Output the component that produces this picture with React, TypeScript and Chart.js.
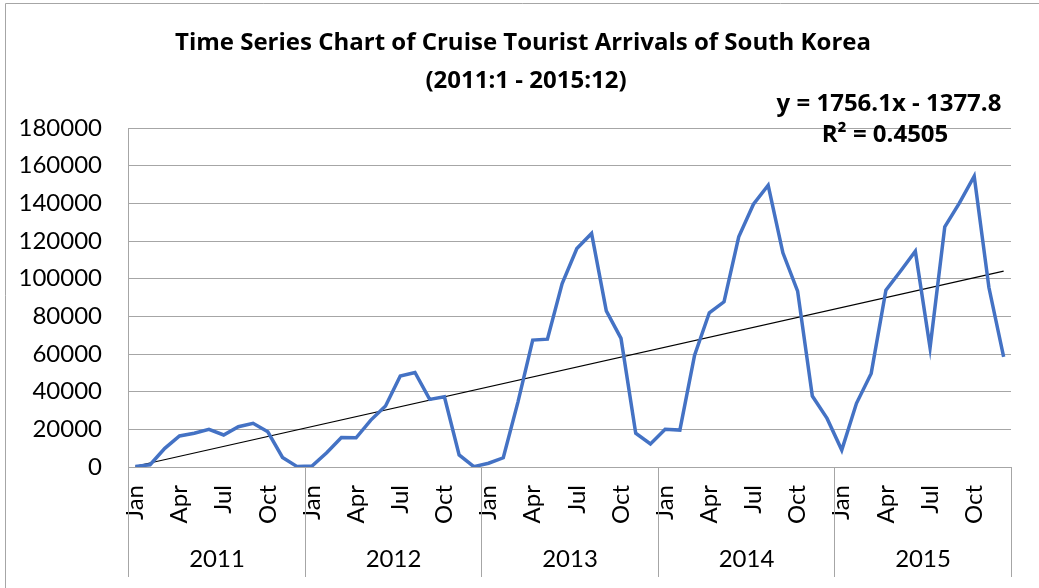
import React, { useEffect, useRef } from 'react';
import { Chart, registerables } from 'chart.js';

Chart.register(...registerables);

const titleLines = ['Time Series Chart of Cruise Tourist Arrivals of South Korea', '(2011:1 - 2015:12)'];
const trendEquation = 'y = 1756.1x - 1377.8';
const trendR2 = 'R² = 0.4505';
const trendSlope = 1756.1;
const trendIntercept = -1377.8;

const years = ['2011', '2012', '2013', '2014', '2015'];
const months = ['Jan', 'Feb', 'Mar', 'Apr', 'May', 'Jun', 'Jul', 'Aug', 'Sep', 'Oct', 'Nov', 'Dec'];
const shownMonths = ['Jan', 'Apr', 'Jul', 'Oct'];

const arrivals2011 = [300, 1200, 9900, 16500, 17900, 20000, 17000, 21400, 23200, 18700, 5100, 200];
const arrivals2012 = [500, 7600, 15700, 15500, 24900, 32400, 48300, 50200, 35900, 37300, 6400, 200];
const arrivals2013 = [2000, 4900, 34600, 67400, 67900, 97400, 116000, 124000, 82900, 68300, 17900, 12200];
const arrivals2014 = [20000, 19600, 59400, 81900, 87700, 122200, 139500, 149600, 113700, 93400, 37700, 25800];
const arrivals2015 = [9000, 33800, 49700, 93900, 104100, 114600, 63300, 127500, 140200, 154400, 95300, 58500];

const yMax = 180000;
const yStep = 20000;

const FONT = 'Lato, "Open Sans", sans-serif';
const BOLD_FONT = '"Open Sans", Lato, sans-serif';
const GRID = '#a6a6a6';

export default function App() {
  const ref = useRef<HTMLCanvasElement | null>(null);

  useEffect(() => {
    document.body.style.margin = '0';
    const canvas = ref.current;
    if (!canvas) return;

    const labels = years.flatMap(() => months);
    const values = [...arrivals2011, ...arrivals2012, ...arrivals2013, ...arrivals2014, ...arrivals2015];
    const n = values.length;
    const trend = values.map((_, i) =>
      i === 0 || i === n - 1 ? trendSlope * (i + 1) + trendIntercept : null
    );

    const decor = {
      id: 'decor',
      beforeDraw(chart: any) {
        const ctx = chart.ctx;
        ctx.save();
        ctx.strokeStyle = GRID;
        ctx.lineWidth = 1;
        ctx.beginPath();
        ctx.moveTo(5.5, chart.height);
        ctx.lineTo(5.5, 3.5);
        ctx.lineTo(chart.width, 3.5);
        ctx.stroke();
        ctx.restore();
      },
      afterDraw(chart: any) {
        const { ctx, chartArea } = chart;
        const x = chart.scales.x;
        ctx.save();
        ctx.strokeStyle = GRID;
        ctx.lineWidth = 1;
        const step = x.getPixelForValue(1) - x.getPixelForValue(0);
        const bounds: number[] = [];
        for (let k = 0; k <= years.length; k++) {
          const idx = k * 12;
          let px: number;
          if (k === 0) px = x.getPixelForValue(0) - step / 2;
          else if (k === years.length) px = x.getPixelForValue(idx - 1) + step / 2;
          else px = (x.getPixelForValue(idx - 1) + x.getPixelForValue(idx)) / 2;
          px = Math.round(px) + 0.5;
          bounds.push(px);
          ctx.beginPath();
          ctx.moveTo(px, chartArea.bottom);
          ctx.lineTo(px, 577);
          ctx.stroke();
        }
        ctx.fillStyle = '#000';
        ctx.font = `24px ${FONT}`;
        ctx.textAlign = 'center';
        ctx.textBaseline = 'middle';
        years.forEach((yr, k) => {
          ctx.fillText(yr, (bounds[k] + bounds[k + 1]) / 2, 559);
        });

        ctx.textBaseline = 'alphabetic';
        ctx.font = `bold 24px ${BOLD_FONT}`;
        ctx.fillText(titleLines[0], 523, 50);
        ctx.fillText(titleLines[1], 526, 88);
        ctx.fillText(trendEquation, 889, 111);
        ctx.fillText(trendR2, 885, 142);
        ctx.restore();
      },
    };

    const chart = new Chart(canvas, {
      type: 'line',
      data: {
        labels,
        datasets: [
          {
            label: 'Arrivals',
            data: values,
            borderColor: '#4472c4',
            backgroundColor: '#4472c4',
            borderWidth: 3.5,
            pointRadius: 0,
            tension: 0,
            borderJoinStyle: 'miter',
          },
          {
            label: 'Linear trend',
            data: trend,
            borderColor: '#000000',
            borderWidth: 1.1,
            pointRadius: 0,
            spanGaps: true,
            tension: 0,
          },
        ],
      },
      options: {
        animation: false,
        responsive: false,
        layout: { padding: { top: 128, right: 28, bottom: 0, left: 0 } },
        plugins: {
          legend: { display: false },
          title: { display: false },
          tooltip: { enabled: false },
        },
        scales: {
          x: {
            type: 'category',
            offset: true,
            grid: { display: false, drawTicks: false },
            border: { display: false },
            ticks: {
              autoSkip: false,
              maxRotation: 90,
              minRotation: 90,
              padding: 18,
              color: '#000',
              font: { family: FONT, size: 24 },
              callback: (_v: any, i: number) => {
                const m = labels[i];
                return shownMonths.includes(m) ? m : '';
              },
            },
            afterFit: (s: any) => {
              s.height = 121;
              s.paddingLeft = 0;
              s.paddingRight = 0;
            },
          },
          y: {
            min: 0,
            max: yMax,
            grid: { color: GRID, drawTicks: false, lineWidth: 1 },
            border: { display: true, color: GRID },
            ticks: {
              stepSize: yStep,
              padding: 26,
              color: '#000',
              font: { family: FONT, size: 24 },
              callback: (v: any) => String(v),
            },
            afterFit: (s: any) => {
              s.width = 128;
            },
          },
        },
      },
      plugins: [decor],
    });

    return () => chart.destroy();
  }, []);

  return (
    <div style={{ width: 1039, height: 588, background: '#fff' }}>
      <canvas ref={ref} width={1039} height={588} style={{ display: 'block' }} />
    </div>
  );
}
